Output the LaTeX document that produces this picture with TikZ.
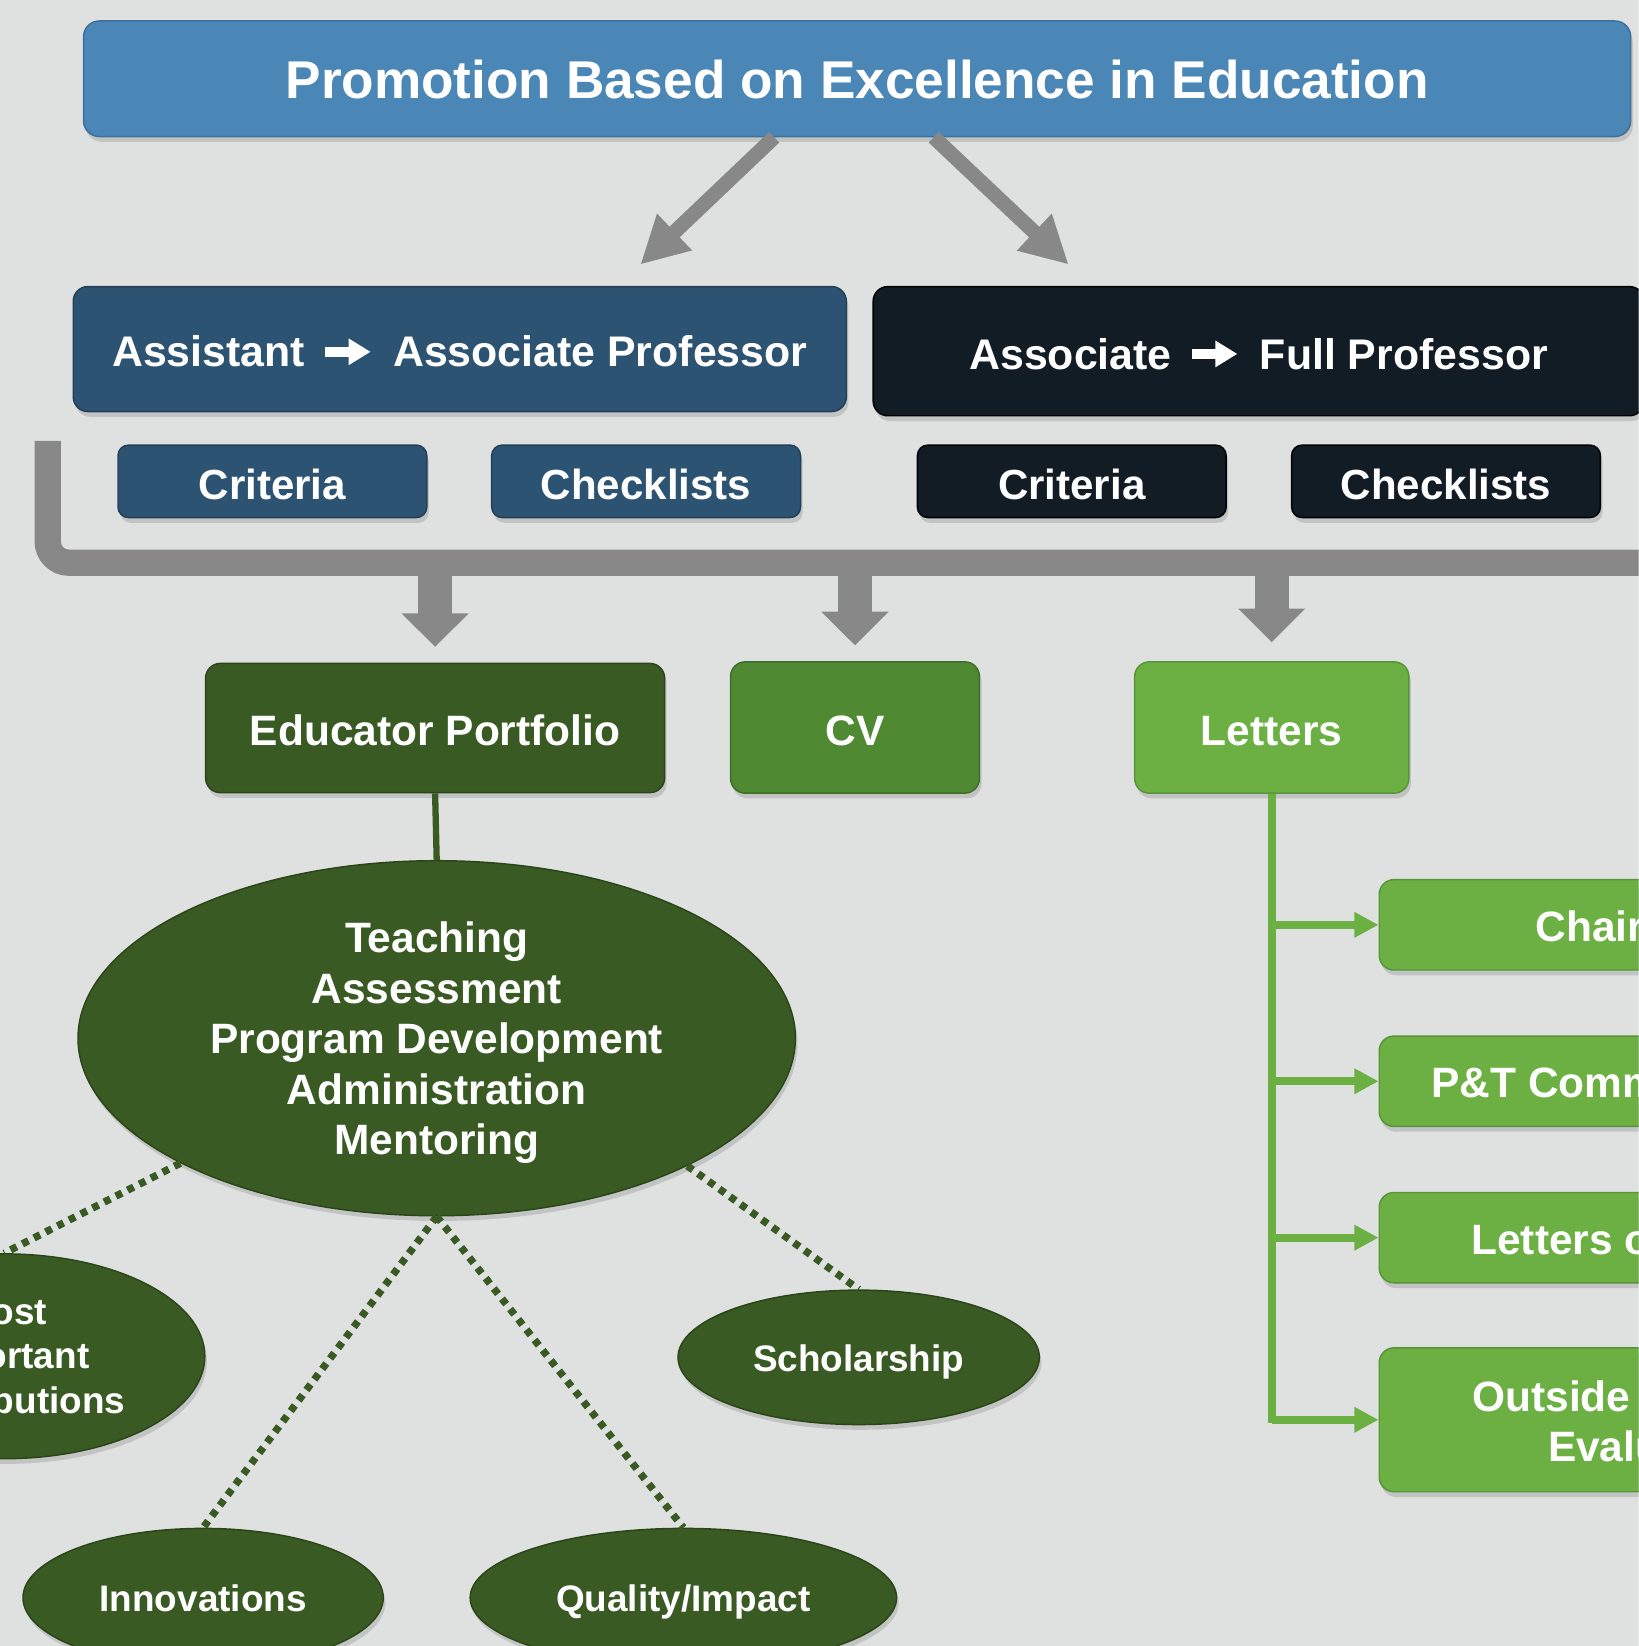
\documentclass[tikz,border=0pt]{standalone}
\usepackage{fontspec}
\setmainfont{Liberation Sans}
\usepackage{tikz}
\usetikzlibrary{arrows.meta, calc, shadows, shapes.geometric}

\definecolor{paper}{HTML}{DFE1E0}
\definecolor{steel}{HTML}{4A86B6}
\definecolor{steelrim}{HTML}{3D719C}
\definecolor{navy}{HTML}{2D5372}
\definecolor{navyrim}{HTML}{223F57}
\definecolor{ink}{HTML}{111C25}
\definecolor{flow}{HTML}{888888}
\definecolor{leaf}{HTML}{3A5A23}
\definecolor{leafrim}{HTML}{2B4519}
\definecolor{moss}{HTML}{4F8A32}
\definecolor{mossrim}{HTML}{3E6E27}
\definecolor{lime}{HTML}{6CB043}
\definecolor{limerim}{HTML}{58953A}

% white arrow used inside the rank labels
\newcommand{\promto}{\tikz[baseline=-4.1pt]\draw[white, line width=0.09cm, -{Triangle[length=0.21cm, width=0.24cm]}] (0cm,0cm) -- (0.43cm,0cm);}

\tikzset{
  shade box/.style={drop shadow={shadow xshift=0.02cm, shadow yshift=-0.05cm, opacity=0.3}},
  titlebox/.style={rectangle, rounded corners=0.15cm, fill=steel, draw=steelrim, shade box, text=white,
    minimum width=14.73cm, minimum height=1.10cm, inner sep=0pt, text height=10.9pt, text depth=0pt,
    font=\fontsize{14.4}{17}\selectfont\bfseries},
  rankbox/.style={rectangle, rounded corners=0.14cm, shade box, text=white, minimum width=7.36cm,
    minimum height=1.19cm, inner sep=0pt, text height=9.7pt, text depth=0pt,
    font=\fontsize{11.6}{14}\selectfont\bfseries},
  tagbox/.style={rectangle, rounded corners=0.1cm, shade box, text=white, minimum width=2.94cm,
    minimum height=0.69cm, inner sep=0pt, text height=9.9pt, text depth=0pt,
    font=\fontsize{11.4}{13}\selectfont\bfseries},
  itembox/.style={rectangle, rounded corners=0.14cm, shade box, text=white, minimum height=1.25cm,
    inner sep=0pt, text height=9.7pt, text depth=0pt, font=\fontsize{11.5}{13.7}\selectfont\bfseries},
  blob/.style={ellipse, fill=leaf, draw=leafrim, shade box, text=white, inner sep=0pt, align=center,
    text depth=0pt, font=\fontsize{10}{12}\selectfont\bfseries},
  oneline/.style={text height=7.7pt},
  letterbox/.style={rectangle, rounded corners=0.14cm, fill=lime, draw=limerim, shade box,
    minimum width=3.6cm, minimum height=0.86cm, inner sep=0pt},
  lettertext/.style={anchor=base west, inner sep=0pt, text=white, font=\fontsize{11.5}{13.7}\selectfont\bfseries},
  flowarrow/.style={draw=flow, line width=0.14cm, -{Triangle[length=0.45cm, width=0.45cm]}},
  droparrow/.style={draw=flow, line width=0.32cm, -{Triangle[length=0.32cm, width=0.62cm]}},
  dotlink/.style={draw=leaf, line width=0.07cm, dash pattern=on 0.065cm off 0.06cm},
  leafline/.style={draw=lime, line width=0.075cm},
  leafarrow/.style={leafline, -{Triangle[length=0.23cm, width=0.23cm]}}
}

\begin{document}
\begin{tikzpicture}[x=0.01cm, y=-0.01cm]
  \useasboundingbox (0,0) rectangle (1561,1568);
  \clip (0,0) rectangle (1561,1568);
  \fill[paper] (0,0) rectangle (1561,1568);

  % heading and the two tracks
  \node[titlebox] (title) at (816.5,75) {Promotion Based on Excellence in Education};
  \node[rankbox, fill=navy, draw=navyrim] (asst) at (438,332.5)
    {Assistant\hspace{0.15cm}\promto\hspace{0.17cm}Associate Professor};
  \node[rankbox, fill=ink, draw=black, minimum width=7.34cm, minimum height=1.23cm] (full) at (1199,334.5)
    {Associate\hspace{0.15cm}\promto\hspace{0.17cm}Full Professor};

  \coordinate (tipA) at (610,252);
  \coordinate (tipB) at (1018,252);
  \draw[flowarrow] ($(title.south)+(-79,0)$) -- (tipA);
  \draw[flowarrow] ($(title.south)+(73,0)$) -- (tipB);

  % criteria and checklists for each track
  \node[tagbox, fill=navy, draw=navyrim] (critA) at (259.5,458.5) {Criteria};
  \node[tagbox, fill=navy, draw=navyrim] (checkA) at (615.5,458.5) {Checklists};
  \node[tagbox, fill=ink, draw=black] (critB) at (1021,458.5) {Criteria};
  \node[tagbox, fill=ink, draw=black] (checkB) at (1377.5,458.5) {Checklists};

  % grey rail collecting both tracks
  \draw[flow, line width=0.25cm, rounded corners=0.2cm] (45.5,420) -- (45.5,536) -- (1620,536);
  \coordinate (rail) at (0,540);

  % dossier parts
  \node[itembox, fill=leaf, draw=leafrim, minimum width=4.37cm, minimum height=1.23cm] (port) at (414.5,693.5) {Educator Portfolio};
  \node[itembox, fill=moss, draw=mossrim, minimum width=2.37cm] (cv) at (814.5,693) {CV};
  \node[itembox, fill=lime, draw=limerim, minimum width=2.61cm] (letters) at (1211.5,693) {Letters};

  \foreach \n in {port,cv}
    \draw[droparrow] (\n.north |- rail) -- ($(\n.north)+(0,-15)$);
  \draw[droparrow] (letters.north |- rail) -- ($(letters.north)+(0,-18)$);

  % portfolio contents
  \node[blob, minimum width=6.83cm, minimum height=3.38cm, font=\fontsize{11.5}{13.7}\selectfont\bfseries] (big) at (416,989)
    {Teaching\\Assessment\\Program Development\\Administration\\Mentoring};
  \draw[leaf, line width=0.06cm] (port.south) -- (big.north);

  \node[blob, minimum width=3.82cm, minimum height=1.95cm] (most) at (4,1292) {Most\\Important\\Contributions};
  \node[blob, oneline, minimum width=3.44cm, minimum height=1.28cm] (schol) at (818,1293) {Scholarship};
  \node[blob, oneline, minimum width=3.43cm, minimum height=1.32cm] (innov) at (193.5,1522) {Innovations};
  \node[blob, oneline, minimum width=4.06cm, minimum height=1.32cm] (qual) at (651,1522) {Quality/Impact};

  \draw[dotlink] (big.206) -- (most.north);
  \draw[dotlink] (big.south) -- (innov.north);
  \draw[dotlink] (big.south) -- (qual.north);
  \draw[dotlink] (big.333) -- (schol.north);

  % letter sources
  \node[letterbox] (chair) at (1494,881) {};
  \node[letterbox] (ptc) at (1494,1030) {};
  \node[letterbox] (lof) at (1494,1179) {};
  \node[letterbox, minimum height=1.37cm] (outs) at (1494,1352.5) {};

  \node[lettertext] (chairtxt) at (1462,896.5) {Chair};
  \node[lettertext] (ptctxt) at (1363,1045.5) {P\&T Comm};
  \node[lettertext] (loftxt) at (1401,1195.5) {Letters o};
  \node[lettertext] (outstxt) at (1402,1344.5) {Outside};
  \node[lettertext] (evaltxt) at (1474,1392.5) {Evalu};

  \draw[leafline] (letters.south) -- ($(letters.south |- outs.west)+(0,3)$);
  \foreach \b in {chair,ptc,lof,outs}
    \draw[leafarrow] (letters.south |- \b.west) -- (\b.west);
\end{tikzpicture}
\end{document}
